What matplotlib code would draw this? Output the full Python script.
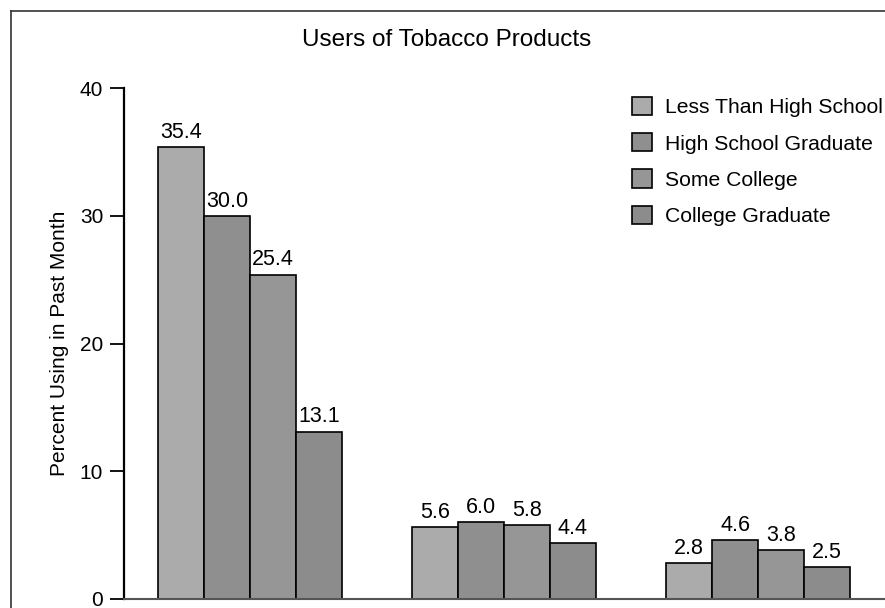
import numpy as np
import matplotlib
matplotlib.use("Agg")
import matplotlib.pyplot as plt
from matplotlib.lines import Line2D

plt.rcParams["font.family"] = ["Liberation Sans", "DejaVu Sans"]

# three product groups, four education levels each
groups = ["Cigarettes", "Cigars", "Smokeless"]
education = ["Less Than High School", "High School Graduate", "Some College", "College Graduate"]
values = [
    [35.4, 5.6, 2.8],
    [30.0, 6.0, 4.6],
    [25.4, 5.8, 3.8],
    [13.1, 4.4, 2.5],
]
colors = ["#ababab", "#8f8f8f", "#969696", "#8c8c8c"]

fig = plt.figure(figsize=(8.85, 6.08), dpi=100)
ax = fig.add_axes([124 / 885, 9 / 608, 761 / 885, 511 / 608])

x = np.arange(len(groups))
width = 0.181

for i, (label, vals) in enumerate(zip(education, values)):
    offset = (i - 1.5) * width
    bars = ax.bar(x + offset, vals, width=width, color=colors[i], edgecolor="black",
                  linewidth=1.2, label=label, zorder=2)
    ax.bar_label(bars, labels=[f"{v:.1f}" for v in vals], padding=3, fontsize=15.5)

ax.set_xlim(-0.496, 2.5)
ax.set_ylim(0, 40)
ax.set_yticks([0, 10, 20, 30, 40])
ax.set_xticks([])
ax.tick_params(axis="y", length=10, width=1.3, labelsize=15, pad=5)

ax.spines["top"].set_visible(False)
ax.spines["right"].set_visible(False)
ax.spines["left"].set_linewidth(1.6)
ax.spines["bottom"].set_linewidth(1.5)
ax.spines["bottom"].set_color("#555555")

ax.set_ylabel("Percent Using in Past Month", fontsize=15, labelpad=8)

fig.text(447 / 885, 1 - 40 / 608, "Users of Tobacco Products", ha="center", va="center", fontsize=17.5)

ax.legend(loc="upper left", bbox_to_anchor=(632 / 885, 1 - 97 / 608),
          bbox_transform=fig.transFigure, frameon=False, fontsize=15.2,
          handlelength=0.95, handleheight=0.95, handletextpad=0.62,
          labelspacing=0.75, borderpad=0, borderaxespad=0)

# outer frame lines
fig.add_artist(Line2D([11 / 885, 11 / 885], [0, 1 - 11 / 608], color="#333333", linewidth=1.2))
fig.add_artist(Line2D([11 / 885, 1], [1 - 11 / 608, 1 - 11 / 608], color="#333333", linewidth=1.2))

fig.savefig("out.png", dpi=100)
plt.close(fig)
